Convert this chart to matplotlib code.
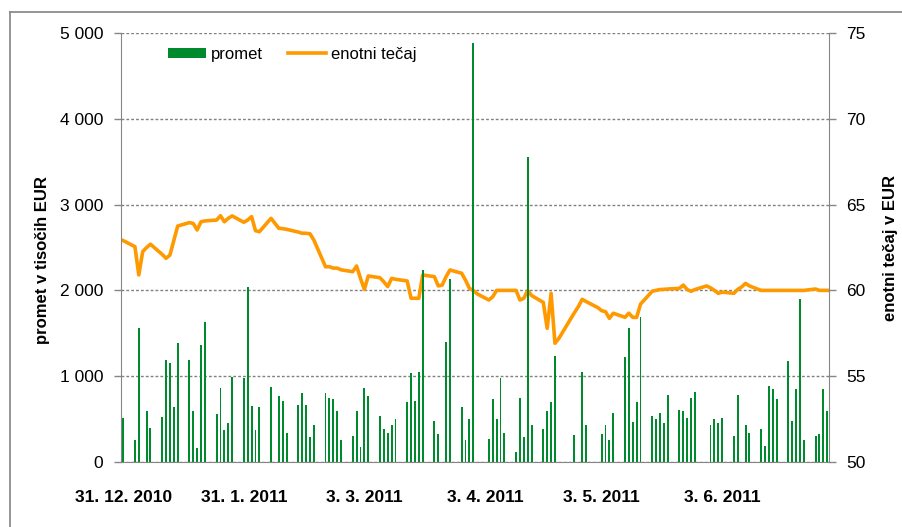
import numpy as np
import pandas as pd
import matplotlib
matplotlib.use('Agg')
import matplotlib.pyplot as plt
from matplotlib.lines import Line2D
from matplotlib.patches import Patch
from matplotlib.ticker import FuncFormatter, FixedLocator

plt.rcParams['font.family'] = ['Liberation Sans', 'DejaVu Sans']

#--------------------------------------
# Data
#--------------------------------------
promet_dates = [
    '2010-12-31', '2011-01-03', '2011-01-04', '2011-01-06', '2011-01-07', '2011-01-10', '2011-01-11', '2011-01-12', '2011-01-13', '2011-01-14',
    '2011-01-17', '2011-01-18', '2011-01-19', '2011-01-20', '2011-01-21', '2011-01-24', '2011-01-25', '2011-01-26', '2011-01-27', '2011-01-28',
    '2011-01-31', '2011-02-01', '2011-02-02', '2011-02-03', '2011-02-04', '2011-02-07', '2011-02-09', '2011-02-10', '2011-02-11',
    '2011-02-14', '2011-02-15', '2011-02-16', '2011-02-17', '2011-02-18', '2011-02-21', '2011-02-22', '2011-02-23', '2011-02-24', '2011-02-25',
    '2011-02-28', '2011-03-01', '2011-03-02', '2011-03-03', '2011-03-04', '2011-03-07', '2011-03-08', '2011-03-09', '2011-03-10', '2011-03-11',
    '2011-03-14', '2011-03-15', '2011-03-16', '2011-03-17', '2011-03-18', '2011-03-21', '2011-03-22', '2011-03-24', '2011-03-25',
    '2011-03-28', '2011-03-29', '2011-03-30', '2011-03-31', '2011-04-04', '2011-04-05', '2011-04-06', '2011-04-07', '2011-04-08',
    '2011-04-11', '2011-04-12', '2011-04-13', '2011-04-14', '2011-04-15', '2011-04-18', '2011-04-19', '2011-04-20', '2011-04-21',
    '2011-04-26', '2011-04-28', '2011-04-29', '2011-05-03', '2011-05-04', '2011-05-05', '2011-05-06', '2011-05-09', '2011-05-10',
    '2011-05-11', '2011-05-12', '2011-05-13',
    '2011-05-16', '2011-05-17', '2011-05-18', '2011-05-19', '2011-05-20', '2011-05-23', '2011-05-24', '2011-05-25', '2011-05-26', '2011-05-27',
    '2011-05-31', '2011-06-01', '2011-06-02', '2011-06-03', '2011-06-06', '2011-06-07', '2011-06-09', '2011-06-10', '2011-06-13',
    '2011-06-14', '2011-06-15', '2011-06-16', '2011-06-17',
    '2011-06-20', '2011-06-21', '2011-06-22', '2011-06-23', '2011-06-24', '2011-06-27', '2011-06-28', '2011-06-29', '2011-06-30']
promet = [
    510, 260, 1560, 590, 400, 530, 1190, 1150, 640, 1390,
    1190, 600, 160, 1360, 1630, 560, 860, 370, 450, 990,
    980, 2040, 650, 370, 640, 870, 770, 710, 340,
    660, 800, 670, 290, 430, 810, 750, 740, 600, 260,
    300, 600, 170, 860, 770, 540, 390, 340, 430, 500,
    700, 1040, 710, 1050, 2240, 480, 330, 1400, 2130,
    640, 260, 500, 4880, 270, 740, 500, 980, 340,
    120, 750, 290, 3550, 430, 390, 600, 700, 1230,
    320, 1050, 430, 330, 430, 260, 570, 1220, 1560,
    470, 700, 1690,
    540, 500, 570, 450, 780, 610, 600, 510, 750, 820,
    430, 500, 450, 510, 300, 780, 430, 340, 380,
    190, 880, 850, 740,
    1180, 480, 850, 1900, 260, 300, 330, 850, 590]

tecaj_dates = [
    '2010-12-31', '2011-01-03', '2011-01-04', '2011-01-05', '2011-01-06', '2011-01-07', '2011-01-10', '2011-01-11', '2011-01-12', '2011-01-13',
    '2011-01-14', '2011-01-17', '2011-01-18', '2011-01-19', '2011-01-20', '2011-01-21', '2011-01-24', '2011-01-25', '2011-01-26', '2011-01-27',
    '2011-01-28', '2011-01-31', '2011-02-01', '2011-02-02', '2011-02-03', '2011-02-04', '2011-02-07', '2011-02-09', '2011-02-10', '2011-02-11',
    '2011-02-14', '2011-02-15', '2011-02-16', '2011-02-17', '2011-02-18', '2011-02-21', '2011-02-22', '2011-02-23', '2011-02-24', '2011-02-25',
    '2011-02-28', '2011-03-01', '2011-03-02', '2011-03-03', '2011-03-04', '2011-03-07', '2011-03-08', '2011-03-09', '2011-03-10', '2011-03-11',
    '2011-03-14', '2011-03-15', '2011-03-16', '2011-03-17', '2011-03-18', '2011-03-21', '2011-03-22', '2011-03-23', '2011-03-24', '2011-03-25',
    '2011-03-28', '2011-03-29', '2011-03-30', '2011-03-31', '2011-04-01', '2011-04-04', '2011-04-05', '2011-04-06', '2011-04-07', '2011-04-08',
    '2011-04-11', '2011-04-12', '2011-04-13', '2011-04-14', '2011-04-15', '2011-04-18', '2011-04-19', '2011-04-20', '2011-04-21', '2011-04-22',
    '2011-04-26', '2011-04-27', '2011-04-28', '2011-04-29', '2011-05-02', '2011-05-03', '2011-05-04', '2011-05-05', '2011-05-06', '2011-05-09',
    '2011-05-10', '2011-05-11', '2011-05-12', '2011-05-13', '2011-05-16', '2011-05-17', '2011-05-18', '2011-05-19', '2011-05-20', '2011-05-23',
    '2011-05-24', '2011-05-25', '2011-05-26', '2011-05-27', '2011-05-30', '2011-05-31', '2011-06-01', '2011-06-02', '2011-06-03', '2011-06-06',
    '2011-06-07', '2011-06-08', '2011-06-09', '2011-06-10', '2011-06-13', '2011-06-14', '2011-06-15', '2011-06-16', '2011-06-17', '2011-06-20',
    '2011-06-21', '2011-06-22', '2011-06-23', '2011-06-24', '2011-06-27', '2011-06-28', '2011-06-29', '2011-06-30']
tecaj = [
    62.90, 62.55, 60.90, 62.26, 62.50, 62.69, 62.10, 61.87, 62.06, 62.90,
    63.75, 63.95, 63.90, 63.52, 64.00, 64.05, 64.10, 64.35, 64.00, 64.20,
    64.34, 63.97, 64.10, 64.30, 63.48, 63.42, 64.20, 63.62, 63.60, 63.56,
    63.40, 63.33, 63.33, 63.30, 62.94, 61.38, 61.38, 61.30, 61.30, 61.20,
    61.09, 61.42, 60.70, 60.06, 60.84, 60.74, 60.50, 60.22, 60.70, 60.65,
    60.55, 59.54, 59.54, 59.54, 60.90, 60.80, 60.26, 60.31, 60.80, 61.19,
    61.00, 60.60, 60.12, 60.00, 59.80, 59.44, 59.63, 60.00, 60.00, 60.00,
    60.00, 59.44, 59.54, 60.00, 59.70, 59.30, 57.79, 59.83, 56.92, 57.20,
    58.70, 59.05, 59.48, 59.35, 59.00, 58.82, 58.76, 58.37, 58.67, 58.43,
    58.67, 58.43, 58.43, 59.20, 59.95, 60.00, 60.05, 60.06, 60.08, 60.12,
    60.31, 60.05, 59.95, 60.05, 60.26, 60.15, 60.00, 59.83, 59.90, 59.83,
    60.06, 60.20, 60.41, 60.26, 60.00, 60.00, 60.00, 60.00, 60.00, 60.00,
    60.00, 60.00, 60.00, 60.00, 60.08, 60.00, 60.00, 60.00]

tick_dates = ['2010-12-31', '2011-01-31', '2011-03-03', '2011-04-03', '2011-05-03', '2011-06-03']
tick_labels = ['31. 12. 2010', '31. 1. 2011', '3. 3. 2011', '3. 4. 2011', '3. 5. 2011', '3. 6. 2011']

GREEN = '#008A2E'
ORANGE = '#FF9900'
GRAY = '#868686'

#--------------------------------------
# Plot
#--------------------------------------
W, H = 902, 527
fig = plt.figure(figsize=(W / 100, H / 100), dpi=100)
ax = fig.add_axes([121.3 / W, 1 - 462 / H, 707.2 / W, 429 / H])
ax2 = ax.twinx()

# bars drawn above the price line
ax.set_zorder(ax2.get_zorder() + 1)
ax.patch.set_visible(False)

ax.bar(pd.to_datetime(promet_dates), promet, width=0.5, color=GREEN, linewidth=0)
ax2.plot(pd.to_datetime(tecaj_dates), tecaj, color=ORANGE, lw=2.6, solid_joinstyle='round')

x0 = pd.Timestamp('2010-12-31') - pd.Timedelta(hours=12)
x1 = pd.Timestamp('2011-06-30') + pd.Timedelta(hours=8)
ax.set_xlim(x0, x1)
ax.set_ylim(0, 5000)
ax2.set_ylim(50, 75)

ax.yaxis.set_major_locator(FixedLocator([0, 1000, 2000, 3000, 4000, 5000]))
ax.yaxis.set_major_formatter(FuncFormatter(lambda v, p: f"{int(v):,}".replace(',', ' ')))
ax2.yaxis.set_major_locator(FixedLocator([50, 55, 60, 65, 70, 75]))
ax2.yaxis.set_major_formatter(FuncFormatter(lambda v, p: f"{int(v)}"))

ax.set_xticks(pd.to_datetime(tick_dates))
ax.set_xticklabels(tick_labels, fontsize=12.5, fontweight='bold')

ax2.yaxis.grid(True, linestyle=(0, (2, 1.5)), color='#808080', lw=1)
ax2.set_axisbelow(True)

for s in ['top', 'right']:
    ax.spines[s].set_visible(False)
for s in ['top', 'left', 'bottom']:
    ax2.spines[s].set_visible(False)
ax.spines['left'].set_color(GRAY)
ax.spines['bottom'].set_color(GRAY)
ax2.spines['right'].set_color(GRAY)

ax.tick_params(axis='y', direction='out', length=5, width=1, color=GRAY, labelsize=12.5, pad=8)
ax.tick_params(axis='x', length=0, pad=20)
ax2.tick_params(axis='y', direction='out', length=5, width=1, color=GRAY, labelsize=12.5, pad=8)

# axis titles
fig.text(43 / W, 1 - 260 / H, 'promet v tisočih EUR', rotation=90, ha='center', va='center',
         fontsize=12, fontweight='bold')
fig.text(891 / W, 1 - 248 / H, 'enotni tečaj v EUR', rotation=90, ha='center', va='center',
         fontsize=12, fontweight='bold')

# legend
handles = [Patch(facecolor=GREEN, edgecolor='none'), Line2D([0], [0], color=ORANGE, lw=2.6)]
ax.legend(handles, ['promet', 'enotni tečaj'], loc='center left',
          bbox_to_anchor=(168 / W, 1 - 54 / H), bbox_transform=fig.transFigure,
          ncol=2, frameon=False, fontsize=12, handlelength=2.28, handleheight=0.54,
          handletextpad=0.3, columnspacing=1.5, borderpad=0, borderaxespad=0)

# chart-area frame (left and top edges visible)
fig.add_artist(Line2D([10 / W, 10 / W], [0, 1 - 12 / H], transform=fig.transFigure, color='#8C8C8C', lw=1.3))
fig.add_artist(Line2D([10 / W, 1], [1 - 12 / H, 1 - 12 / H], transform=fig.transFigure, color='#8C8C8C', lw=1.3))

fig.savefig('out.png', dpi=100)
